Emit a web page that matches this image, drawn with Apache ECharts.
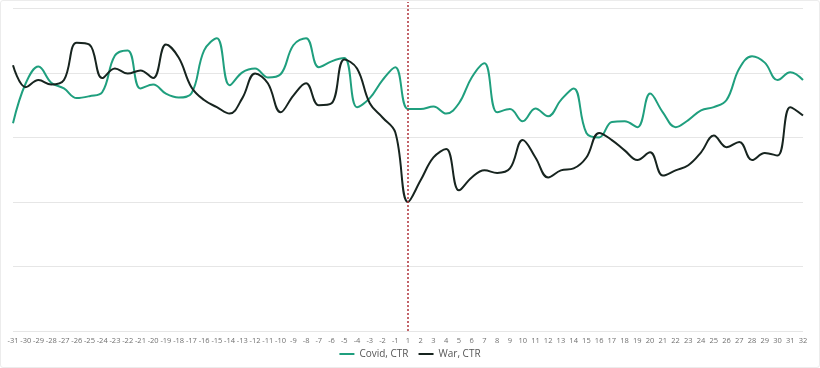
<!DOCTYPE html>
<html>
<head>
<meta charset="utf-8">
<script src="https://cdn.jsdelivr.net/npm/echarts@6/dist/echarts.min.js"></script>
<style>
html,body{margin:0;padding:0;background:#fff;}
#wrap{position:absolute;left:0;top:0;width:818px;height:366px;border:1px solid #ececec;border-radius:3px;}
#chart{width:818px;height:366px;}
</style>
</head>
<body>
<div id="wrap"><div id="chart"></div></div>
<script>
const days = ['-31','-30','-29','-28','-27','-26','-25','-24','-23','-22','-21','-20','-19','-18','-17','-16','-15','-14','-13','-12','-11','-10','-9','-8','-7','-6','-5','-4','-3','-2','-1',
  '1','2','3','4','5','6','7','8','9','10','11','12','13','14','15','16','17','18','19','20','21','22','23','24','25','26','27','28','29','30','31','32'];
const covidCTR = [3.22,3.84,4.10,3.85,3.76,3.61,3.64,3.70,4.27,4.35,3.76,3.82,3.68,3.62,3.68,4.35,4.54,3.81,4.01,4.07,3.93,3.98,4.43,4.54,4.09,4.18,4.23,3.47,3.61,3.89,4.09,
  3.44,3.44,3.48,3.37,3.53,3.93,4.15,3.39,3.44,3.25,3.45,3.33,3.58,3.76,3.07,3.00,3.24,3.25,3.16,3.68,3.39,3.16,3.27,3.42,3.47,3.58,4.07,4.26,4.16,3.89,4.01,3.89];
const warCTR = [4.12,3.78,3.89,3.82,3.89,4.47,4.44,3.92,4.07,3.99,4.04,3.92,4.44,4.24,3.78,3.58,3.47,3.37,3.61,3.99,3.84,3.39,3.65,3.84,3.50,3.53,4.21,4.07,3.53,3.31,3.08,
  2.00,2.34,2.69,2.82,2.18,2.38,2.49,2.45,2.52,2.96,2.69,2.38,2.49,2.52,2.69,3.07,2.96,2.80,2.65,2.77,2.41,2.49,2.57,2.77,3.03,2.85,2.93,2.65,2.76,2.72,3.47,3.34];
const eventDay = '1';
const seriesNames = ['Covid, CTR','War, CTR'];

const chart = echarts.init(document.getElementById('chart'));
const font = 'Open Sans';
chart.setOption({
  animation: false,
  grid: {left: 12, right: 16, top: 1, bottom: 36},
  legend: {
    data: seriesNames, bottom: 3, left: 'center',
    icon: 'rect', itemWidth: 15, itemHeight: 2, itemGap: 10,
    textStyle: {fontFamily: font, fontSize: 10, color: '#555'}
  },
  xAxis: {
    type: 'category', data: days, boundaryGap: false,
    axisLine: {show: false}, axisTick: {show: false},
    axisLabel: {interval: 0, fontFamily: font, fontSize: 7.5, color: '#707070', margin: 6}
  },
  yAxis: {
    type: 'value', min: 0, max: 5.1, interval: 1,
    axisLabel: {show: false}, axisLine: {show: false}, axisTick: {show: false},
    splitLine: {lineStyle: {color: ['#e6e6e6','#e6e6e6','#e6e6e6','#e6e6e6','#e6e6e6','#e6e6e6','rgba(0,0,0,0)'], width: 1}}
  },
  series: [
    {
      name: seriesNames[0], type: 'line', data: covidCTR, smooth: 0.4,
      symbol: 'none', lineStyle: {color: '#1f9f7e', width: 2}, itemStyle: {color: '#1f9f7e'},
      markLine: {
        silent: true, symbol: 'none', label: {show: false},
        lineStyle: {color: '#b0323a', type: [2, 2], width: 1.5},
        data: [{xAxis: eventDay}]
      }
    },
    {
      name: seriesNames[1], type: 'line', data: warCTR, smooth: 0.4,
      symbol: 'none', lineStyle: {color: '#17241f', width: 2}, itemStyle: {color: '#17241f'}
    }
  ]
});
</script>
</body>
</html>
